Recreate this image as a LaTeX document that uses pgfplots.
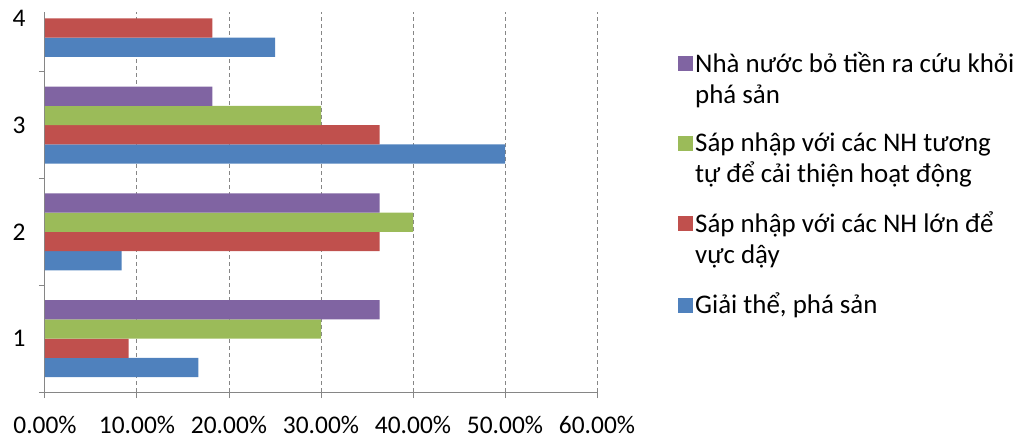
\documentclass[border=0pt]{standalone}
\usepackage{pgfplots}
\pgfplotsset{compat=1.18}
\usepackage{fontspec}
\setmainfont{Carlito}

\definecolor{xlblue}{HTML}{4F81BD}
\definecolor{xlred}{HTML}{C0504D}
\definecolor{xlgreen}{HTML}{9BBB59}
\definecolor{xlpurple}{HTML}{8064A2}
\definecolor{axgray}{HTML}{868686}

% legend squares sitting on the baseline of the first text line
\pgfplotsset{
  oneline/.style={legend image code/.code={\fill[##1] (0bp,-9bp) rectangle (15bp,6bp);}},
  twoline/.style={legend image code/.code={\fill[##1] (0bp,7bp) rectangle (15bp,22bp);}},
}

\begin{document}
\begin{tikzpicture}
\path[use as bounding box] (-45bp,-49bp) rectangle (973bp,392bp);
\begin{axis}[
  scale only axis, width=552bp, height=380bp,
  at={(0,0)}, anchor=south west,
  xmin=0, xmax=60, ymin=0.5, ymax=4.06,
  axis x line*=bottom, axis y line*=left,
  axis line style={axgray, line width=1bp},
  tick align=outside,
  major tick length=6bp,
  tick style={axgray, line width=1bp},
  xtick={0,10,...,60},
  xticklabels={0.00\%,10.00\%,20.00\%,30.00\%,40.00\%,50.00\%,60.00\%},
  xticklabel style={font=\fontsize{25.5}{30}\selectfont, yshift=-15bp},
  ytick={0.5,1.5,2.5,3.5},
  yticklabels={},
  extra y ticks={1,2,3,4},
  extra y tick labels={1,2,3,4},
  extra y tick style={major tick length=0pt, yticklabel style={font=\fontsize{25.5}{30}\selectfont, xshift=-16bp}},
  xmajorgrids,
  grid style={axgray, dash pattern=on 4bp off 3bp, line width=1bp},
  bar width=0.18,
  reverse legend,
  legend cell align=left,
  legend style={at={(axis description cs:1.1467,0.9)}, anchor=north west,
    draw=none, fill=none, inner sep=0pt, row sep=24bp,
    font=\fontsize{27}{31}\selectfont,
    cells={align=left, anchor=west}},
]
% Giải thể, phá sản
\addplot[xbar, bar shift=-0.27, fill=xlblue, draw=none, oneline]
  coordinates {(16.67,1) (8.33,2) (50,3) (25,4)};
% Sáp nhập với các NH lớn
\addplot[xbar, bar shift=-0.09, fill=xlred, draw=none, twoline]
  coordinates {(9.09,1) (36.36,2) (36.36,3) (18.18,4)};
% Sáp nhập với các NH tương tự
\addplot[xbar, bar shift=0.09, fill=xlgreen, draw=none, twoline]
  coordinates {(30,1) (40,2) (30,3)};
% Nhà nước cứu
\addplot[xbar, bar shift=0.27, fill=xlpurple, draw=none, twoline]
  coordinates {(36.36,1) (36.36,2) (18.18,3)};
\legend{{Giải thể, phá sản},
  {Sáp nhập với các NH lớn để\\vực dậy},
  {Sáp nhập với các NH tương\\tự để cải thiện hoạt động},
  {Nhà nước bỏ tiền ra cứu khỏi\\phá sản}}
\end{axis}
\end{tikzpicture}
\end{document}
